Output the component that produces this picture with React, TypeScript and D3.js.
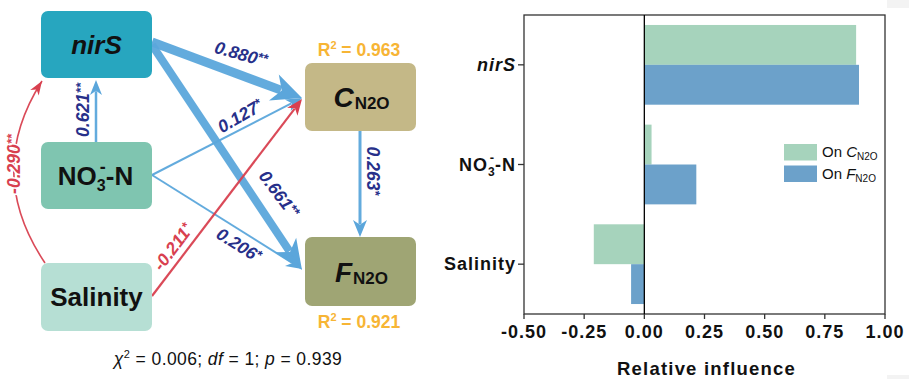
import React from "react";
import * as d3 from "d3";

// ---------- Data ----------
const categories = ["nirS", "NO3-N", "Salinity"];
const onC = [0.88, 0.03, -0.21];
const onF = [0.892, 0.216, -0.055];
const xTicks = [-0.5, -0.25, 0, 0.25, 0.5, 0.75, 1.0];
const seriesNames = ["C", "F"];

const pathFrom = ["nirS", "nirS", "NO3", "NO3", "NO3", "Salinity", "Salinity", "C"];
const pathTo = ["C", "F", "nirS", "C", "F", "C", "nirS", "F"];
const pathCoef = [0.88, 0.661, 0.621, 0.127, 0.206, -0.211, -0.29, 0.263];
const pathSig = ["**", "**", "**", "*", "*", "*", "**", "*"];
const r2Values = [0.963, 0.921];
const fitChi = 0.006;
const fitDf = 1;
const fitP = 0.939;

// ---------- Style / layout ----------
const FONT = "Arial, 'Liberation Sans', Helvetica, sans-serif";
const BLUE = "#5ba6db";
const RED = "#d8404f";
const NAVY = "#27308a";
const ORANGE = "#f7b535";
const GREEN_BAR = "#a6d3bc";
const BLUE_BAR = "#6ca1ca";

const locale = d3.formatLocale({ decimal: ".", thousands: ",", grouping: [3], currency: ["", ""], minus: "-" });
const f3 = locale.format(".3f");
const tickFmt = locale.format(".2f");

const nodes: Record<string, { x: number; y: number; w: number; h: number; fill: string }> = {
  nirS: { x: 41, y: 11, w: 111, h: 67, fill: "#27a6bf" },
  NO3: { x: 41, y: 142, w: 111, h: 67, fill: "#7fc5b0" },
  Salinity: { x: 41, y: 263, w: 111, h: 68, fill: "#b6dfd4" },
  C: { x: 305, y: 63, w: 111, h: 68, fill: "#c4b887" },
  F: { x: 305, y: 237, w: 111, h: 69, fill: "#9fa574" },
};

// per-path geometry (index aligned with pathFrom)
const pathGeom = [
  { s: [152, 42], e: [302, 98], w: 9, hl: 30, hw: 28, lx: 241, ly: 54, rot: 16 },
  { s: [152, 45], e: [302, 270], w: 8, hl: 30, hw: 26, lx: 279, ly: 194, rot: 53 },
  { s: [96, 142], e: [96, 80], w: 2.5, hl: 15, hw: 12, lx: 83, ly: 110, rot: -90 },
  { s: [152, 175], e: [302, 98], w: 2, hl: 16, hw: 13, lx: 240, ly: 116, rot: -30 },
  { s: [152, 175], e: [302, 269], w: 2, hl: 16, hw: 13, lx: 239, ly: 245, rot: 32 },
  { s: [152, 296], e: [302, 99], w: 2.2, hl: 16, hw: 13, lx: 173, ly: 247, rot: -53 },
  { s: [45, 263], e: [42, 81], w: 1.6, hl: 14, hw: 10, lx: 14, ly: 164, rot: -90, ctrl: [-16, 172] },
  { s: [360, 131], e: [360, 237], w: 3, hl: 17, hw: 14, lx: 373, ly: 171, rot: 90 },
];

function arrowHead(tip: number[], dir: number[], hl: number, hw: number) {
  const [ux, uy] = dir;
  const px = -uy, py = ux;
  const bx = tip[0] - ux * hl, by = tip[1] - uy * hl;
  const nx = tip[0] - ux * hl * 0.72, ny = tip[1] - uy * hl * 0.72;
  return `M${tip[0]},${tip[1]}L${bx + (px * hw) / 2},${by + (py * hw) / 2}L${nx},${ny}L${bx - (px * hw) / 2},${by - (py * hw) / 2}Z`;
}

function SemArrow({ i }: { i: number }) {
  const g = pathGeom[i];
  const color = pathCoef[i] < 0 ? RED : BLUE;
  const [x1, y1] = g.s;
  const [x2, y2] = g.e;
  let linePath: string;
  let dir: number[];
  if ((g as any).ctrl) {
    const c = (g as any).ctrl;
    const p = d3.path();
    p.moveTo(x1, y1);
    p.quadraticCurveTo(c[0], c[1], x2, y2);
    linePath = p.toString();
    const dx = x2 - c[0], dy = y2 - c[1], L = Math.hypot(dx, dy);
    dir = [dx / L, dy / L];
  } else {
    const dx = x2 - x1, dy = y2 - y1, L = Math.hypot(dx, dy);
    dir = [dx / L, dy / L];
    const p = d3.path();
    p.moveTo(x1, y1);
    p.lineTo(x2 - dir[0] * g.hl * 0.75, y2 - dir[1] * g.hl * 0.75);
    linePath = p.toString();
  }
  return (
    <g>
      <path d={linePath} stroke={color} strokeWidth={g.w} fill="none" opacity={0.95} />
      <path d={arrowHead([x2, y2], dir, g.hl, g.hw)} fill={color} />
    </g>
  );
}

function SemLabel({ i }: { i: number }) {
  const g = pathGeom[i];
  const neg = pathCoef[i] < 0;
  const color = neg ? RED : NAVY;
  const txt = f3(pathCoef[i]);
  return (
    <text
      transform={`translate(${g.lx},${g.ly}) rotate(${g.rot})`}
      textAnchor="middle"
      dy="0.35em"
      fill={color}
      fontFamily={FONT}
      fontWeight="bold"
      fontStyle="italic"
      fontSize={17.5}
      stroke={i === 6 ? "#fff" : "none"}
      strokeWidth={i === 6 ? 3 : 0}
      paintOrder="stroke"
    >
      {txt}
      <tspan fontSize={13} dy="-4">{pathSig[i]}</tspan>
    </text>
  );
}

function NodeBox({ id }: { id: string }) {
  const n = nodes[id];
  const cx = n.x + n.w / 2;
  const cy = n.y + n.h / 2;
  let label: React.ReactNode = null;
  const common = { fontFamily: FONT, fontWeight: "bold" as const, fill: "#111", textAnchor: "middle" as const };
  if (id === "nirS") {
    label = (
      <text x={cx} y={cy + 9} {...common} fontSize={26} fontStyle="italic">
        nirS
      </text>
    );
  } else if (id === "NO3") {
    label = (
      <text x={cx - 1} y={cy + 9} {...common} fontSize={26}>
        NO
        <tspan fontSize={16} dy="6">3</tspan>
        <tspan fontSize={18} dx="-6" dy="-18">-</tspan>
        <tspan dy="12">-N</tspan>
      </text>
    );
  } else if (id === "Salinity") {
    label = (
      <text x={cx} y={cy + 9} {...common} fontSize={26}>
        Salinity
      </text>
    );
  } else {
    label = (
      <text x={cx + 1} y={cy + 10} {...common} fontSize={28}>
        <tspan fontStyle="italic">{id}</tspan>
        <tspan fontSize={17} dy="2" dx="1">N2O</tspan>
      </text>
    );
  }
  return (
    <g>
      <rect x={n.x} y={n.y} width={n.w} height={n.h} rx={7} fill={n.fill} />
      {label}
    </g>
  );
}

function R2Label({ v, x, y }: { v: number; x: number; y: number }) {
  return (
    <text x={x} y={y} textAnchor="middle" fontFamily={FONT} fontWeight="bold" fontSize={17.5} fill={ORANGE}>
      R<tspan fontSize={11} dy="-7">2</tspan>
      <tspan dy="7"> = {f3(v)}</tspan>
    </text>
  );
}

// ---------- Right chart ----------
const plot = { left: 524, right: 885, top: 15, bottom: 314 };
const x = d3.scaleLinear().domain([-0.5, 1.0]).range([plot.left, plot.right]);
const y = d3.scaleBand<string>().domain(categories).range([plot.top, plot.bottom]).paddingInner(0.2).paddingOuter(0.1);
const ySub = d3.scaleBand<string>().domain(seriesNames).range([0, y.bandwidth()]);

function CatLabel({ c, yy }: { c: string; yy: number }) {
  const common = {
    x: 516,
    y: yy,
    dy: "0.35em",
    textAnchor: "end" as const,
    fontFamily: FONT,
    fontWeight: "bold" as const,
    fontSize: 18,
    letterSpacing: 1,
    fill: "#111",
  };
  if (c === "nirS")
    return (
      <text {...common} fontStyle="italic">
        nirS
      </text>
    );
  if (c === "NO3-N")
    return (
      <text {...common}>
        NO<tspan fontSize={12} dy="5">3</tspan>
        <tspan fontSize={13} dx="-6" dy="-14">-</tspan>
        <tspan dy="9">-N</tspan>
      </text>
    );
  return <text {...common}>{c}</text>;
}

export default function App() {
  const seriesVals = [onC, onF];
  const seriesColors = [GREEN_BAR, BLUE_BAR];
  return (
    <svg width={909} height={379} style={{ position: "absolute", left: 0, top: 0, background: "#fff" }}>
      <rect x={0} y={0} width={909} height={379} fill="#fff" />
      <rect x={887} y={0} width={22} height={8} fill="#f3f3f3" />
      <rect x={887} y={375} width={22} height={4} fill="#f3f3f3" />

      {/* SEM diagram: arrows */}
      {pathFrom.map((_, i) => (
        <SemArrow key={"a" + i} i={i} />
      ))}
      {Object.keys(nodes).map((id) => (
        <NodeBox key={id} id={id} />
      ))}
      {pathFrom.map((_, i) => (
        <SemLabel key={"l" + i} i={i} />
      ))}
      <R2Label v={r2Values[0]} x={359} y={56} />
      <R2Label v={r2Values[1]} x={359} y={328} />
      <text x={228} y={365} textAnchor="middle" fontFamily={FONT} fontSize={17.5} letterSpacing={0.4} fill="#111">
        <tspan fontStyle="italic">χ</tspan>
        <tspan fontSize={11} dy="-7">2</tspan>
        <tspan dy="7"> = {f3(fitChi)}; </tspan>
        <tspan fontStyle="italic">df</tspan>
        <tspan> = {fitDf}; </tspan>
        <tspan fontStyle="italic">p</tspan>
        <tspan> = {f3(fitP)}</tspan>
      </text>

      {/* Bar chart */}
      {categories.map((c, ci) =>
        seriesNames.map((s, si) => {
          const v = seriesVals[si][ci];
          const x0 = x(Math.min(0, v));
          const x1 = x(Math.max(0, v));
          return (
            <rect
              key={c + s}
              x={x0}
              y={(y(c) as number) + (ySub(s) as number)}
              width={x1 - x0}
              height={ySub.bandwidth()}
              fill={seriesColors[si]}
            />
          );
        })
      )}
      <rect
        x={plot.left}
        y={plot.top}
        width={plot.right - plot.left}
        height={plot.bottom - plot.top}
        fill="none"
        stroke="#333"
        strokeWidth={1.3}
      />
      <line x1={x(0)} x2={x(0)} y1={plot.top} y2={plot.bottom} stroke="#000" strokeWidth={1.3} />
      {xTicks.map((t) => (
        <g key={t}>
          <line x1={x(t)} x2={x(t)} y1={plot.bottom} y2={plot.bottom + 5} stroke="#333" strokeWidth={1.3} />
          <text
            x={x(t)}
            y={338}
            textAnchor="middle"
            fontFamily={FONT}
            fontWeight="bold"
            fontSize={18}
            letterSpacing={1}
            fill="#111"
          >
            {tickFmt(t)}
          </text>
        </g>
      ))}
      {categories.map((c) => {
        const yy = (y(c) as number) + y.bandwidth() / 2;
        return (
          <g key={c}>
            <line x1={plot.left - 6} x2={plot.left} y1={yy} y2={yy} stroke="#333" strokeWidth={1.3} />
            <CatLabel c={c} yy={yy} />
          </g>
        );
      })}
      <text
        x={(plot.left + plot.right) / 2 + 2}
        y={375}
        textAnchor="middle"
        fontFamily={FONT}
        fontWeight="bold"
        fontSize={18.5}
        letterSpacing={1.2}
        fill="#111"
      >
        Relative influence
      </text>

      {/* Legend */}
      {seriesNames.map((s, si) => (
        <g key={"lg" + s} transform={`translate(784,${144 + si * 21.5})`}>
          <rect x={0} y={0} width={33} height={16.5} fill={seriesColors[si]} />
          <text x={38} y={13} fontFamily={FONT} fontSize={15} fill="#111">
            On <tspan fontStyle="italic">{s}</tspan>
            <tspan fontSize={10} dy="3">N2O</tspan>
          </text>
        </g>
      ))}
    </svg>
  );
}
